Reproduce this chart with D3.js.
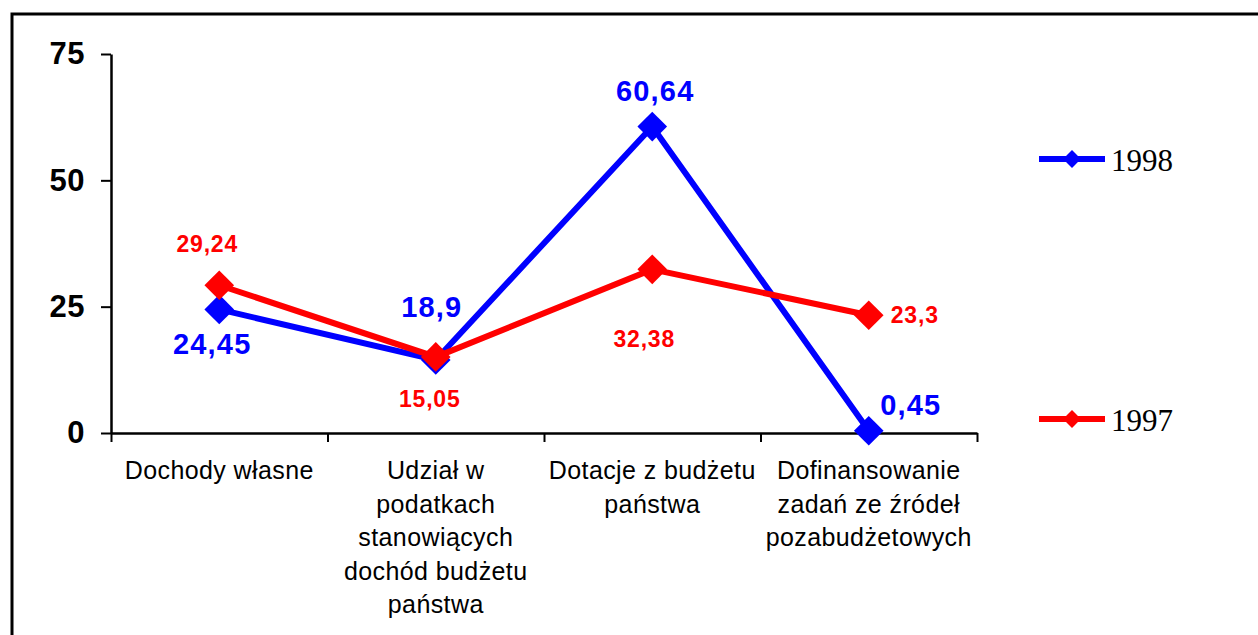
<!DOCTYPE html>
<html><head><meta charset="utf-8">
<script src="https://cdn.jsdelivr.net/npm/d3@7"></script>
<style>body{margin:0;background:#fff}svg{display:block}</style>
</head><body><svg id="c" width="1258" height="635"></svg>
<script>
const categories = ["Dochody własne", "Udział w podatkach stanowiących dochód budżetu państwa", "Dotacje z budżetu państwa", "Dofinansowanie zadań ze źródeł pozabudżetowych"];
const categoryLines = [["Dochody własne"], ["Udział w", "podatkach", "stanowiących", "dochód budżetu", "państwa"], ["Dotacje z budżetu", "państwa"], ["Dofinansowanie", "zadań ze źródeł", "pozabudżetowych"]];
const values1998 = [24.45, 14.46, 60.64, 0.45];
const labels1998 = ["24,45", "18,9", "60,64", "0,45"];
const values1997 = [29.24, 15.05, 32.38, 23.3];
const labels1997 = ["29,24", "15,05", "32,38", "23,3"];
const yTicks = [0, 25, 50, 75];

const svg = d3.select("#c");
svg.append("rect").attr("x", 12).attr("y", 14).attr("width", 1300).attr("height", 700)
  .attr("fill", "#fff").attr("stroke", "#000").attr("stroke-width", 3);

const x0 = 111, x1 = 977;
const x = d3.scaleBand().domain(categories).range([x0, x1]).padding(0);
const xc = c => x(c) + x.bandwidth() / 2;
const xb = d3.scaleLinear().domain([0, 4]).range([x0, x1]);
const y = d3.scaleLinear().domain([0, 75]).range([433, 54]);

// y axis
const ya = svg.append("g").attr("transform", `translate(${x0},0)`)
  .call(d3.axisLeft(y).tickValues(yTicks).tickSize(10).tickSizeOuter(0).tickPadding(16));
ya.select(".domain").attr("stroke-width", 2.5);
ya.selectAll(".tick line").attr("stroke-width", 2);
ya.selectAll("text").attr("font-family", "Liberation Sans, Arial, sans-serif").attr("font-size", 31)
  .attr("font-weight", "bold").attr("letter-spacing", 0.5).attr("fill", "#000");

// x axis
const xa = svg.append("g").attr("transform", `translate(0,${y(0)})`)
  .call(d3.axisBottom(xb).ticks(4).tickSize(9).tickSizeOuter(0).tickFormat(""));
xa.select(".domain").attr("stroke-width", 2.5);
xa.selectAll(".tick line").attr("stroke-width", 2);

// category labels
categories.forEach((c, i) => {
  const t = svg.append("text").attr("text-anchor", "middle")
    .attr("font-family", "Liberation Sans, Arial, sans-serif").attr("font-size", 25)
    .attr("letter-spacing", 0.4).attr("fill", "#000");
  categoryLines[i].forEach((l, j) => {
    t.append("tspan").attr("x", xc(c)).attr("y", 479 + j * 33.5).text(l);
  });
});

const line = d3.line().x((d, i) => xc(categories[i])).y(d => y(d));
const diamond = d3.symbol(d3.symbolSquare, 440);

function drawSeries(vals, color) {
  svg.append("path").datum(vals).attr("d", line).attr("fill", "none")
    .attr("stroke", color).attr("stroke-width", 6).attr("stroke-linejoin", "miter");
  svg.selectAll(null).data(vals).enter().append("path")
    .attr("d", diamond)
    .attr("transform", (d, i) => `translate(${xc(categories[i])},${y(d)}) rotate(45)`)
    .attr("fill", color);
}
drawSeries(values1998, "#0000ff");
drawSeries(values1997, "#ff0000");

// value labels
const blueOff = [[-7, 45], [-4, -43], [3, -26], [42, -16]];
labels1998.forEach((l, i) => {
  svg.append("text").attr("x", xc(categories[i]) + blueOff[i][0]).attr("y", y(values1998[i]) + blueOff[i][1])
    .attr("text-anchor", "middle").attr("font-family", "Liberation Sans, Arial, sans-serif")
    .attr("font-size", 29).attr("font-weight", "bold").attr("letter-spacing", 1.2).attr("fill", "#0000ff").text(l);
});
const redOff = [[-12, -33], [-6, 50], [-8, 78], [46, 8]];
labels1997.forEach((l, i) => {
  svg.append("text").attr("x", xc(categories[i]) + redOff[i][0]).attr("y", y(values1997[i]) + redOff[i][1])
    .attr("text-anchor", "middle").attr("font-family", "Liberation Sans, Arial, sans-serif")
    .attr("font-size", 23).attr("font-weight", "bold").attr("letter-spacing", 0.8).attr("fill", "#ff0000").text(l);
});

// legend
const legend = [["1998", "#0000ff", 159], ["1997", "#ff0000", 419]];
legend.forEach(([name, color, ly]) => {
  svg.append("line").attr("x1", 1039).attr("x2", 1105).attr("y1", ly).attr("y2", ly)
    .attr("stroke", color).attr("stroke-width", 6);
  svg.append("path").attr("d", d3.symbol(d3.symbolSquare, 160)).attr("transform", `translate(1072,${ly}) rotate(45)`).attr("fill", color);
  svg.append("text").attr("x", 1111).attr("y", ly + 12).attr("font-family", "Liberation Serif, Times New Roman, serif")
    .attr("font-size", 31).attr("fill", "#000").text(name);
});
</script></body></html>
